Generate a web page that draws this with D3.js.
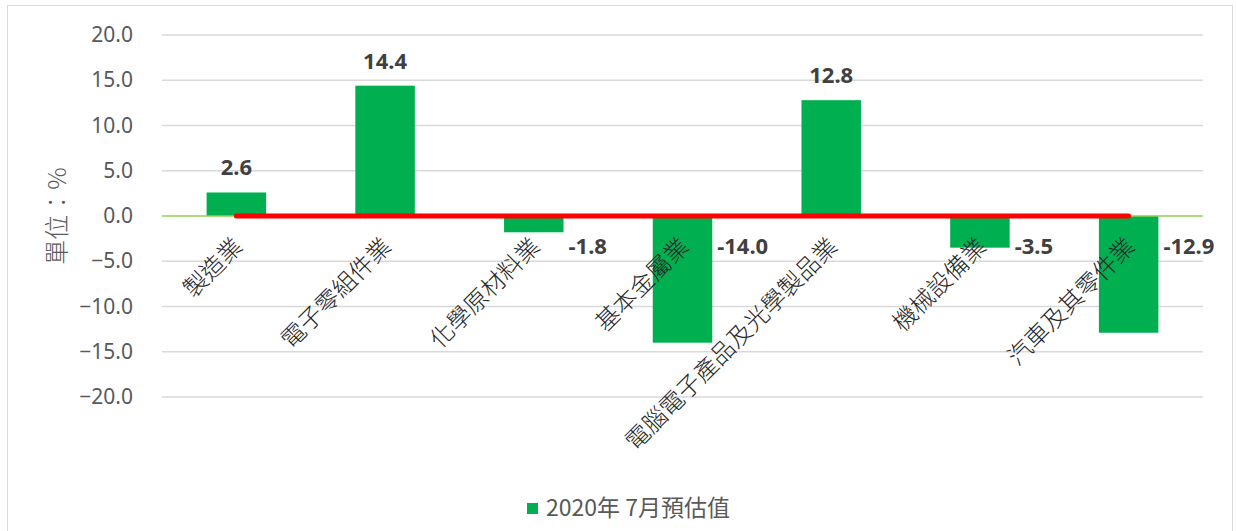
<!DOCTYPE html>
<html lang="zh-Hant">
<head>
<meta charset="UTF-8">
<title>2020年7月預估值</title>
<script src="https://d3js.org/d3.v7.min.js"></script>
<style>
    body { margin: 0; background: #fff; }
    svg { display: block; }
    .tick-label { font-family: "Noto Sans", "Liberation Sans", sans-serif; font-size: 21px; fill: #595959; }
    .cat-label { font-family: "Noto Sans CJK TC", sans-serif; font-size: 24px; font-weight: 300; fill: #262626; }
    .val-label { font-family: "Noto Sans", "Liberation Sans", sans-serif; font-size: 22px; font-weight: bold; fill: #404040; }
</style>
</head>
<body>
<svg id="chart"></svg>
<script>
// data
const categories = ["製造業", "電子零組件業", "化學原材料業", "基本金屬業", "電腦電子產品及光學製品業", "機械設備業", "汽車及其零件業"];
const values = [2.6, 14.4, -1.8, -14.0, 12.8, -3.5, -12.9];
const yTicks = [20, 15, 10, 5, 0, -5, -10, -15, -20];
const seriesName = "2020年 7月預估值";
const yTitle = "單位：%";

const W = 1237, H = 531;
const margin = { top: 35, right: 34, bottom: 134, left: 162 };
const innerW = W - margin.left - margin.right;
const innerH = H - margin.top - margin.bottom;

const svg = d3.select("#chart").attr("width", W).attr("height", H);

// outer border
svg.append("rect")
    .attr("x", 7.5).attr("y", 5.5)
    .attr("width", 1225).attr("height", 540)
    .attr("fill", "none").attr("stroke", "#d9d9d9");

const g = svg.append("g").attr("transform", `translate(${margin.left},${margin.top})`);

const x = d3.scaleBand().domain(categories).range([0, innerW]).paddingInner(0.6).paddingOuter(0.3);
const y = d3.scaleLinear().domain([-20, 20]).range([innerH, 0]);

// gridlines
g.selectAll(".grid").data(yTicks.filter(d => d !== 0)).enter().append("line")
    .attr("x1", 0).attr("x2", innerW)
    .attr("y1", d => y(d)).attr("y2", d => y(d))
    .attr("stroke", "#d9d9d9").attr("stroke-width", 1.3);

// y axis labels
const yAxis = g.append("g").call(d3.axisLeft(y).tickValues(yTicks).tickFormat(d3.format(".1f")).tickSize(0).tickPadding(29));
yAxis.select(".domain").remove();
yAxis.selectAll("text").attr("class", "tick-label").attr("fill", null).attr("font-size", null).attr("font-family", null);

// y axis title
svg.append("text")
    .attr("transform", `translate(66,${margin.top + y(0)}) rotate(-90)`)
    .attr("text-anchor", "middle")
    .attr("font-family", "Noto Sans CJK TC, sans-serif")
    .attr("font-size", 25)
    .attr("font-weight", 300)
    .attr("fill", "#595959")
    .text(yTitle);

// bars
g.selectAll(".bar").data(values).enter().append("rect")
    .attr("x", (d, i) => x(categories[i]))
    .attr("width", x.bandwidth())
    .attr("y", d => y(Math.max(0, d)))
    .attr("height", d => Math.abs(y(d) - y(0)))
    .attr("fill", "#00b050");

// zero line
g.append("line")
    .attr("x1", 0).attr("x2", innerW)
    .attr("y1", y(0)).attr("y2", y(0))
    .attr("stroke", "#92d050").attr("stroke-width", 1.5);

// red line across category centres
const cx = c => x(c) + x.bandwidth() / 2;
g.append("line")
    .attr("x1", cx(categories[0])).attr("x2", cx(categories[categories.length - 1]))
    .attr("y1", y(0)).attr("y2", y(0))
    .attr("stroke", "#ff0000").attr("stroke-width", 5).attr("stroke-linecap", "round");

// category labels
g.selectAll(".cat").data(categories).enter().append("text")
    .attr("class", "cat-label")
    .attr("text-anchor", "end")
    .attr("transform", d => `translate(${cx(d) + 2},${y(0) + 26}) rotate(-45)`)
    .attr("dy", "0.35em")
    .text(d => d);

// value labels
g.selectAll(".val").data(values).enter().append("text")
    .attr("class", "val-label")
    .attr("text-anchor", d => d >= 0 ? "middle" : "start")
    .attr("x", (d, i) => d >= 0 ? cx(categories[i]) : x(categories[i]) + x.bandwidth() + 5)
    .attr("y", d => d >= 0 ? y(d) - 17 : y(0) + 38)
    .text(d => d.toFixed(1));

// legend
const legend = svg.append("g").attr("transform", "translate(527,498)");
legend.append("rect").attr("width", 11).attr("height", 11).attr("y", 5).attr("fill", "#00b050");
legend.append("text")
    .attr("x", 19).attr("y", 18)
    .attr("font-family", "Noto Sans CJK TC, sans-serif")
    .attr("font-size", 23)
    .attr("fill", "#595959")
    .text(seriesName);
</script>
</body>
</html>
